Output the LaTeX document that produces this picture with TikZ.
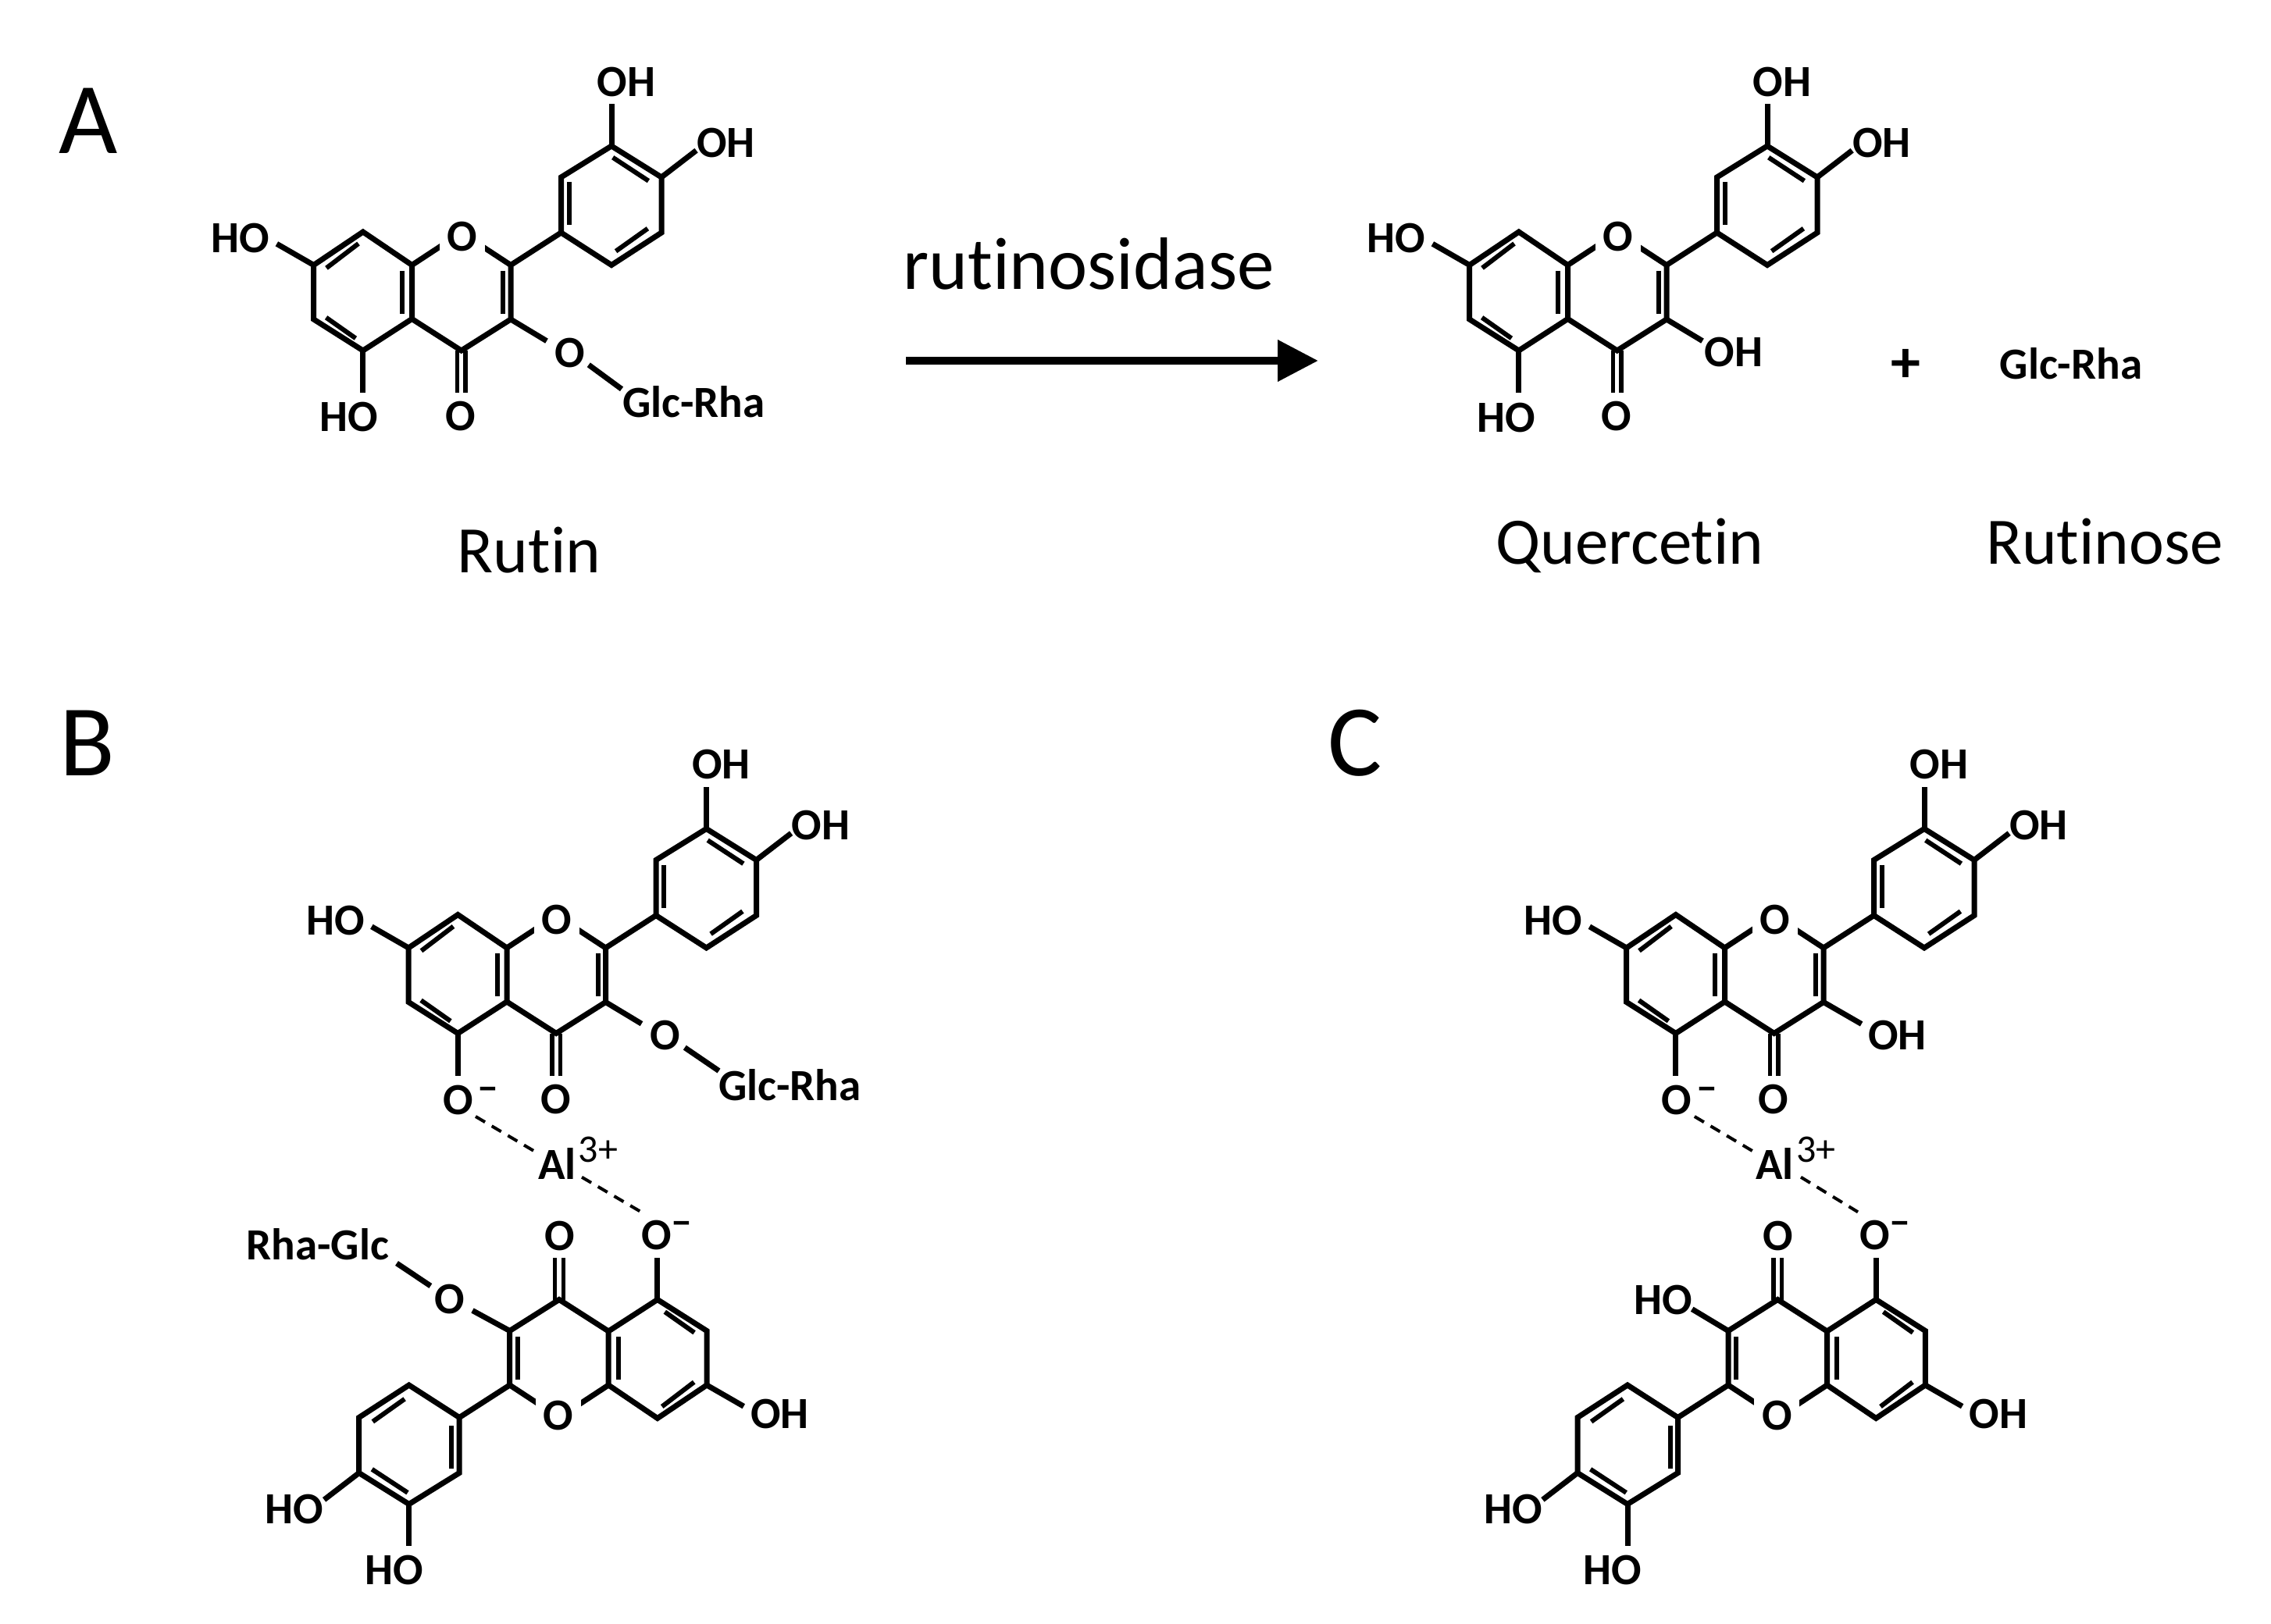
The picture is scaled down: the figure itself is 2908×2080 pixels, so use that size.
\documentclass[tikz,border=0pt]{standalone}
\usepackage{fontspec}
\setmainfont[Ligatures={NoCommon}]{Carlito}
\usetikzlibrary{arrows.meta}
\tikzset{
  bond/.style={line width=3.5pt,line cap=butt,line join=miter},
  inner bond/.style={line width=3pt,line cap=butt},
  keto bond/.style={line width=2.75pt,line cap=butt},
  coord bond/.style={line width=2pt,dash pattern=on 7pt off 5pt},
  lab/.style={font=\fontsize{28.5}{28.5}\selectfont\bfseries,inner sep=0pt,text=black},
  ringO/.style={lab,fill=white,minimum width=29pt,minimum height=30pt},
  title/.style={font=\fontsize{42.5}{42.5}\selectfont,inner sep=0pt,anchor=base},
  enzyme/.style={font=\fontsize{47.5}{47.5}\selectfont,inner sep=0pt,anchor=base},
  panel/.style={font=\fontsize{65}{65}\selectfont,inner sep=0pt,anchor=base},
  ionlab/.style={lab,anchor=base west}
}
% #1 prefix, #2 dx, #3 dy, #4 sign, #5 7-sub, #6 3'-sub, #7 4'-sub, #8 extra code in the local frame, #9 label y offset
\newcommand{\flavone}[9]{%
\begin{scope}[shift={(#2,#3)},xscale=#4,yscale=#4]
  \coordinate (#1C7) at (401.7,339.5);
  \coordinate (#1C8) at (464.8,297);
  \coordinate (#1C8a) at (527.5,339.5);
  \coordinate (#1C4a) at (527.5,408.5);
  \coordinate (#1C5) at (464.8,449);
  \coordinate (#1C6) at (401.7,409);
  \coordinate (#1O1v) at (590.7,298);
  \coordinate (#1C2) at (654,339.5);
  \coordinate (#1C3) at (654,409);
  \coordinate (#1C4) at (590.7,449);
  \coordinate (#1C1p) at (718.5,298);
  \coordinate (#1C2p) at (718.5,227);
  \coordinate (#1C3p) at (783,187);
  \coordinate (#1C4p) at (847,227);
  \coordinate (#1C5p) at (847,298);
  \coordinate (#1C6p) at (783,339.5);
  \coordinate (#1e7) at (354.4,312.3);
  \coordinate (#1e3p) at (783,133.3);
  \coordinate (#1e4p) at (891.6,192.7);
  \coordinate (#1e5) at (464.8,503);
  \draw[bond] (#1C8a) -- (#1O1v) -- (#1C2);
  \node[ringO] (#1O1) at (591.7,303.5+#9) {O};
  \draw[bond] (#1C7) -- (#1C8) -- (#1C8a) -- (#1C4a) -- (#1C5) -- (#1C6) -- cycle;
  \draw[bond] (#1C4a) -- (#1C4) -- (#1C3) -- (#1C2) -- (#1C1p);
  \draw[bond] (#1C1p) -- (#1C2p) -- (#1C3p) -- (#1C4p) -- (#1C5p) -- (#1C6p) -- cycle;
  \draw[bond] (#1C7) -- (#1e7);
  \draw[bond] (#1C3p) -- (#1e3p);
  \draw[bond] (#1C4p) -- (#1e4p);
  \draw[bond] (#1C5) -- (#1e5);
  \draw[inner bond] (418,343.3) -- (459,312);
  \draw[inner bond] (417.6,406.7) -- (455.4,433.3);
  \draw[inner bond] (515,346.7) -- (515,401.7);
  \draw[inner bond] (644,346.7) -- (644,401.7);
  \draw[inner bond] (728.5,233) -- (728.5,288);
  \draw[inner bond] (784.7,201.7) -- (830.4,231.7);
  \draw[inner bond] (788.6,321.7) -- (829.4,292.7);
  \draw[keto bond] (585.4,449) -- (585.4,503);
  \draw[keto bond] (596,449) -- (596,503);
  \node[lab] (#1Oket) at (590,533.5+#9) {O};
  \node[lab] (#1s7) at (308,304.8+#9) {#5};
  \node[lab] (#1s3p) at (802,104.8+#9) {#6};
  \node[lab] (#1s4p) at (929.5,182.8+#9) {#7};
  #8
\end{scope}}
% name, O centre x, y, kern before the minus sign
\newcommand{\Oanion}[4]{%
  \node[ionlab] (#1) at (#2-19,#3+18.5) {O\kern#4\raisebox{8.6pt}{\fontsize{25}{25}\selectfont −}};}
\begin{document}
\begin{tikzpicture}[x=0.5pt,y=-0.5pt]
\useasboundingbox (0,0) rectangle (2908,2080);
% panel letters
\node[panel] (pA) at (113,197) {A};
\node[panel] (pB) at (112,993) {B};
\node[panel] (pC) at (1735,993) {C};
% panel A
\flavone{r}{0}{0}{1}{HO}{OH}{OH}{%
  \node[lab] (rHO5) at (446.4,534) {HO};
  \coordinate (re3) at (700,436.7);
  \draw[bond] (rC3) -- (re3);
  \node[lab] (rO3) at (730,452.5) {O};
  \coordinate (rg1) at (753.8,467.3);
  \coordinate (rg2) at (796,498.3);
  \draw[bond] (rg1) -- (rg2);
  \node[lab] (rGlc) at (888.5,515) {Glc-Rha};
}{0}
\flavone{q}{1480}{0}{1}{HO}{OH}{OH}{%
  \node[lab] (qHO5) at (448.8,535) {HO};
  \coordinate (qe3) at (700,436.7);
  \draw[bond] (qC3) -- (qe3);
  \node[lab] (qOH3) at (739.7,451) {OH};
}{0}
\coordinate (arS) at (1160,462);
\coordinate (arE) at (1688,462);
\draw[line width=5.2pt,-{Triangle[length=26pt,width=25.5pt]}] (arS) -- (arE);
\node[enzyme] (enz) at (1394,370.5) {rutinosidase};
\node[title] (nRut) at (677.5,734) {Rutin};
\node[title] (nQue) at (2087,723) {Quercetin};
\node[title] (nRtn) at (2695,723) {Rutinose};
\node[lab,font=\fontsize{38}{38}\selectfont\bfseries] (plus) at (2440,468) {+};
\node[lab] (gr) at (2652,465.5) {Glc-Rha};
% panel B
\flavone{bu}{121.5}{874.5}{1}{HO}{OH}{OH}{%
  \coordinate (bue3) at (700,436.7);
  \draw[bond] (buC3) -- (bue3);
  \node[lab] (buO3) at (730.5,451.5) {O};
  \coordinate (bug1) at (755.3,467.2);
  \coordinate (bug2) at (799,497);
  \draw[bond] (bug1) -- (bug2);
  \node[lab] (buGlc) at (890,515.5) {Glc-Rha};
}{0}
\flavone{bl}{1306.7}{2113.5}{-1}{OH}{HO}{HO}{%
  \coordinate (ble3) at (701.7,435);
  \draw[bond] (blC3) -- (ble3);
  \node[lab] (blO3) at (730.7,449.3) {O};
  \coordinate (blg1) at (755.3,466.5);
  \coordinate (blg2) at (798.7,495.5);
  \draw[bond] (blg1) -- (blg2);
  \node[lab] (blGlc) at (899.9,519.5) {Rha-Glc};
}{-2.5}
\Oanion{buO5}{586}{1409}{3.5pt}
\Oanion{blO5}{840}{1581.5}{0.3pt}
\node[ionlab] (bAl) at (688.6,1510) {Al\kern1.6pt\raisebox{10.6pt}{\mdseries\fontsize{25}{25}\selectfont 3+}};
\coordinate (bd1) at (609,1430);
\coordinate (bd2) at (684,1474.3);
\coordinate (bd3) at (745,1507.7);
\coordinate (bd4) at (820,1551.7);
\draw[coord bond] (bd1) -- (bd2);
\draw[coord bond] (bd3) -- (bd4);
% panel C
\flavone{cu}{1681}{874.5}{1}{HO}{OH}{OH}{%
  \coordinate (cue3) at (702.6,437);
  \draw[bond] (cuC3) -- (cue3);
  \node[lab] (cuOH3) at (748.6,451.5) {OH};
}{0}
\flavone{cl}{2867}{2113.5}{-1}{OH}{HO}{HO}{%
  \coordinate (cle3) at (700.3,436.8);
  \draw[bond] (clC3) -- (cle3);
  \node[lab] (clOH3) at (737,448.5) {HO};
}{-2.5}
\Oanion{cuO5}{2146.3}{1409}{3.5pt}
\Oanion{clO5}{2400.4}{1581.5}{0.3pt}
\node[ionlab] (cAl) at (2248,1510) {Al\kern1.6pt\raisebox{10.6pt}{\mdseries\fontsize{25}{25}\selectfont 3+}};
\coordinate (cd1) at (2169.8,1430);
\coordinate (cd2) at (2243.8,1474);
\coordinate (cd3) at (2306,1507.7);
\coordinate (cd4) at (2379,1552.3);
\draw[coord bond] (cd1) -- (cd2);
\draw[coord bond] (cd3) -- (cd4);
\end{tikzpicture}
\end{document}
